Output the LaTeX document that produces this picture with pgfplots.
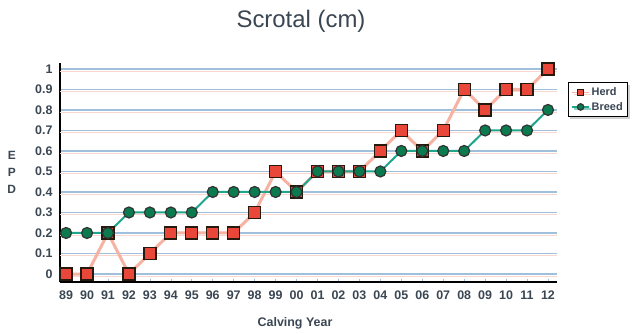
\documentclass[border=0pt]{standalone}
\usepackage{fontspec}
\setmainfont{Liberation Sans}
\usepackage{pgfplots}
\pgfplotsset{compat=1.18}
\usetikzlibrary{shadows}

\definecolor{herdfill}{HTML}{E8473A}
\definecolor{herdline}{HTML}{F6B2A2}
\definecolor{breedfill}{HTML}{0B7A4E}
\definecolor{breedline}{HTML}{1FA58C}
\definecolor{gridblue}{HTML}{9FC0DC}
\definecolor{gridpink}{HTML}{F8D8CE}
\definecolor{txt}{HTML}{3A4652}

\pgfplotstableread{
idx herd breed
0  0.0 0.2
1  0.0 0.2
2  0.2 0.2
3  0.0 0.3
4  0.1 0.3
5  0.2 0.3
6  0.2 0.3
7  0.2 0.4
8  0.2 0.4
9  0.3 0.4
10 0.5 0.4
11 0.4 0.4
12 0.5 0.5
13 0.5 0.5
14 0.5 0.5
15 0.6 0.5
16 0.7 0.6
17 0.6 0.6
18 0.7 0.6
19 0.9 0.6
20 0.8 0.7
21 0.9 0.7
22 0.9 0.7
23 1.0 0.8
}\epd

\begin{document}
\begin{tikzpicture}
\useasboundingbox (0bp,0bp) rectangle (644bp,334bp);
\node[font=\fontsize{24}{27}\selectfont, text=txt] at (301bp,313bp) {Scrotal (cm)};
\node[font=\bfseries\fontsize{12.5}{14}\selectfont, text=txt] at (295bp,11bp) {Calving Year};
\begin{axis}[
  at={(60bp,52bp)}, anchor=south west,
  scale only axis, width=497bp, height=219bp,
  xmin=-0.29, xmax=23.43, ymin=-0.039, ymax=1.029,
  axis x line*=bottom, axis y line*=left,
  axis line style={-, line width=2.4bp, black},
  xtick={0,...,23},
  xticklabels={89,90,91,92,93,94,95,96,97,98,99,00,01,02,03,04,05,06,07,08,09,10,11,12},
  ytick={0,0.1,0.2,0.3,0.4,0.5,0.6,0.7,0.8,0.9,1},
  yticklabels={0,0.1,0.2,0.3,0.4,0.5,0.6,0.7,0.8,0.9,1},
  major tick length=3bp,
  x tick style={draw=gridblue, line width=0.6bp},
  y tick style={draw=none},
  ticklabel style={font=\bfseries\fontsize{12.5}{14}\selectfont, text=txt},
  /pgf/number format/assume math mode=true,
  xticklabel style={yshift=-5bp},
  yticklabel style={xshift=-4bp},
  ymajorgrids,
  grid style={draw=gridblue, line width=1.3bp},
  legend style={at={(1.022,0.912)}, anchor=north west, draw=black, line width=1.1bp,
    fill=white, font=\bfseries\fontsize{11}{12}\selectfont, text=txt,
    drop shadow={shadow xshift=2bp, shadow yshift=-2bp, fill=gray!70},
    inner xsep=3bp, inner ysep=3bp, row sep=1bp, legend cell align=left},
  legend image post style={line width=1.2bp, mark size=3.2bp},
  clip=false,
]
% faint pink shadow under each grid line
\pgfplotsinvokeforeach{0,0.1,0.2,0.3,0.4,0.5,0.6,0.7,0.8,0.9,1}{
  \draw[gridpink, line width=1bp, yshift=-2.2bp] (axis cs:-0.29,#1) -- (axis cs:23.43,#1);
}
\addplot[herdline, line width=3bp, mark=square*, mark size=6bp,
  mark options={fill=herdfill, draw=black!80!brown, line width=1.3bp}]
  table[x=idx, y=herd] {\epd};
\addlegendentry{Herd}
\addplot[breedline, line width=2bp, mark=*, mark size=5.5bp,
  mark options={fill=breedfill, draw=black!80, line width=1.2bp}]
  table[x=idx, y=breed] {\epd};
\addlegendentry{Breed}
\node[font=\bfseries\fontsize{12}{17}\selectfont, text=txt, align=center]
  at (rel axis cs:-0.097,0.5) {E\\P\\D};
\end{axis}
\end{tikzpicture}
\end{document}
